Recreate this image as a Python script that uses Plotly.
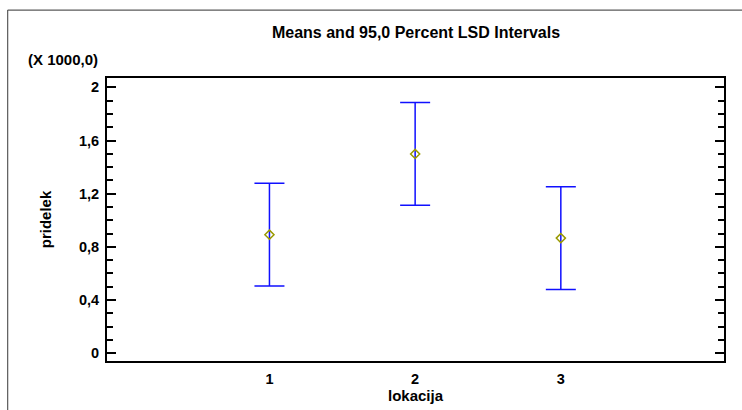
import plotly.graph_objects as go

# Group means with 95% LSD intervals (pridelek by lokacija)
lokacija = [1, 2, 3]
means = [892, 1499, 866]
lsd_half = [386, 386, 386]

y_tickvals = [0, 400, 800, 1200, 1600, 2000]
y_ticktext = ["0", "0,4", "0,8", "1,2", "1,6", "2"]
x_ticktext = ["1", "2", "3"]

FONT = "Liberation Sans, Arial, sans-serif"

fig = go.Figure()
fig.add_trace(go.Scatter(
    x=lokacija,
    y=means,
    mode="markers",
    marker=dict(symbol="diamond-open", size=7, color="#9a9a00",
                line=dict(width=1.5, color="#9a9a00")),
    error_y=dict(type="data", array=lsd_half, symmetric=True,
                 color="#1010ff", thickness=1.5, width=15),
    showlegend=False,
))

fig.update_layout(
    width=742, height=410,
    margin=dict(l=107, r=18, t=78, b=49),
    paper_bgcolor="white", plot_bgcolor="white",
    font=dict(family=FONT, size=14, color="black"),
    title=dict(text="<b>Means and 95,0 Percent LSD Intervals</b>",
               x=0.5607, xanchor="center", y=0.922, yanchor="middle",
               font=dict(family=FONT, size=16, color="black")),
    xaxis=dict(
        range=[-0.115, 4.12], tickvals=lokacija, ticktext=x_ticktext,
        ticks="", showgrid=False, zeroline=False, automargin=False,
        showline=True, linecolor="black", linewidth=2, mirror=True,
        ticklabelstandoff=4,
        tickfont=dict(family=FONT, size=14.5, color="black", weight="bold"),
        title=dict(text="<b>lokacija</b>", standoff=4,
                   font=dict(family=FONT, size=15, color="black")),
    ),
    yaxis=dict(
        range=[-58, 2070], tickvals=y_tickvals, ticktext=y_ticktext,
        ticks="inside", ticklen=9, tickwidth=1.5, tickcolor="black",
        minor=dict(ticks="inside", dtick=100, tick0=0, ticklen=6,
                   tickwidth=1.5, tickcolor="black", showgrid=False),
        showgrid=False, zeroline=False, automargin=False,
        showline=True, linecolor="black", linewidth=2, mirror="ticks",
        ticklabelstandoff=3,
        tickfont=dict(family=FONT, size=14.5, color="black", weight="bold"),
        title=dict(text="<b>pridelek</b>", standoff=24,
                   font=dict(family=FONT, size=15, color="black")),
    ),
    annotations=[dict(
        text="<b>(X 1000,0)</b>", xref="paper", yref="paper",
        x=-0.012, y=1.065, xanchor="right", yanchor="middle",
        showarrow=False, font=dict(family=FONT, size=15, color="black"),
    )],
    shapes=[
        # outer frame: top and left edges
        dict(type="line", xref="paper", yref="paper",
             x0=-0.161, x1=1.05, y0=1.24, y1=1.24,
             line=dict(color="#5a5a5a", width=1.2)),
        dict(type="line", xref="paper", yref="paper",
             x0=-0.161, x1=-0.161, y0=1.24, y1=-0.2,
             line=dict(color="#5a5a5a", width=1.2)),
    ],
)

fig.write_html("out.html")
